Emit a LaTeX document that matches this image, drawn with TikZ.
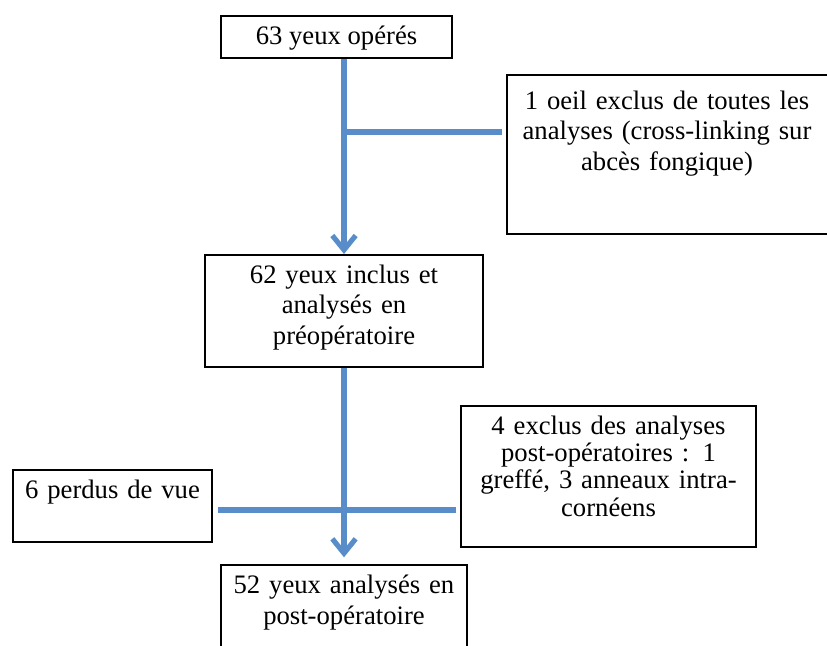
\documentclass[tikz,border=0pt]{standalone}
\usepackage{fontspec}
\setmainfont{Liberation Serif}
\usepackage{tikz}
\usetikzlibrary{arrows.meta, positioning}
\definecolor{flowblue}{RGB}{88,141,201}

\begin{document}
\begin{tikzpicture}[x=0.45pt, y=-0.45pt,
    box/.style={draw, line width=1pt, inner sep=3pt, align=center,
        font=\fontsize{12}{13.8}\selectfont, text height=9.6pt},
    flow/.style={draw=flowblue, line width=2.3pt},
    flowarrow/.style={flow, -{Straight Barb[length=6.5pt, width=10.5pt]}}]
    \useasboundingbox (0,0) rectangle (827,646);
    \clip (0,0) rectangle (827,646);

    % Boxes
    \node[box, minimum width=104pt, minimum height=18.9pt] (op) at (336.5,37) {63 yeux opérés};
    % right side of this box runs off the page
    \node[box, draw=none, anchor=north, text width=137pt, text height=11.9pt, text depth=52.8pt] (excl) at (667,75)
        {1 oeil exclus de toutes les\\analyses (cross-linking sur\\abcès fongique)};
    \draw[line width=1pt] ([xshift=20pt]excl.north east) -- (excl.north west)
        -- (excl.south west) -- ([xshift=20pt]excl.south east);
    \node[box, anchor=north, text width=119.1pt, text depth=34.8pt] (incl) at (344,254)
        {62 yeux inclus et\\analysés en\\préopératoire};
    \node[box, anchor=north, text width=83.6pt, text depth=16.8pt] (perdus) at (112.5,469)
        {6 perdus de vue};
    \node[box, anchor=north, text width=126.8pt, text depth=47.9pt,
        font=\fontsize{12}{12.3}\selectfont] (exclpost) at (608.5,405)
        {4 exclus des analyses\\post-opératoires : 1\\greffé, 3 anneaux intra-\\cornéens};
    \node[box, anchor=north, text width=104.7pt, text height=10pt, text depth=32pt] (final) at (344,564)
        {52 yeux analysés en\\post-opératoire};

    % Connectors
    \coordinate (j1) at (344,132);
    \coordinate (j2) at (344,510);
    \draw[flowarrow] (op.south -| incl.north) -- (incl.north);
    \draw[flow, shorten >=2.2pt] (j1) -- (j1 -| excl.west);
    \draw[flowarrow, shorten >=3pt] (incl.south) -- (final.north);
    \draw[flow, shorten <=2.2pt, shorten >=1.8pt] (j2 -| perdus.east) -- (j2 -| exclpost.west);
\end{tikzpicture}
\end{document}
